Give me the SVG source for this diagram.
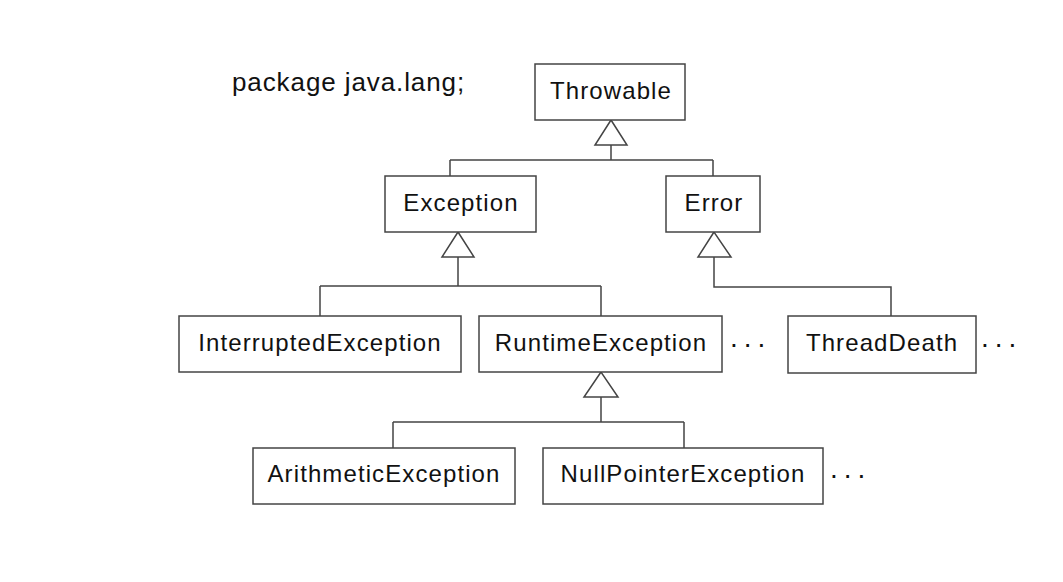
<svg xmlns="http://www.w3.org/2000/svg" width="1063" height="582" viewBox="0 0 1063 582">
<style>
.box{fill:#fff;stroke:#444;stroke-width:1.5}
.lbl{font-family:"Liberation Sans",Arial,sans-serif;font-size:24px;letter-spacing:1.1px;fill:#111;text-anchor:middle}
.pkg{font-family:"Liberation Sans",Arial,sans-serif;font-size:26px;letter-spacing:0.9px;fill:#111}
.dots{font-family:"Liberation Sans",Arial,sans-serif;font-size:28px;letter-spacing:6px;fill:#111}
.ln{fill:none;stroke:#444;stroke-width:1.5}
.tri{fill:#fff;stroke:#444;stroke-width:1.5;stroke-linejoin:miter}
</style>
<rect width="1063" height="582" fill="#fff"/>
<text class="pkg" x="232" y="91">package java.lang;</text>
<g id="connectors">
<path class="ln" d="M611,145 V160 M450,160 H713 M450,160 V176 M713,160 V176"/>
<polygon class="tri" points="611,120 595,145 627,145"/>
<path class="ln" d="M458,257 V286 M320,286 H601 M320,286 V316 M601,286 V316"/>
<polygon class="tri" points="458,232 442,257 474,257"/>
<path class="ln" d="M714,257 V287 H891 V316"/>
<polygon class="tri" points="714,232 698,257 731,257"/>
<path class="ln" d="M601,397 V422 M393,422 H684 M393,422 V448 M684,422 V448"/>
<polygon class="tri" points="601,372 584,397 618,397"/>
</g>
<g id="Throwable"><rect class="box" x="535" y="64" width="150" height="56"/><text class="lbl" x="611" y="99">Throwable</text></g>
<g id="Exception"><rect class="box" x="385" y="176" width="151" height="56"/><text class="lbl" x="461" y="211">Exception</text></g>
<g id="Error"><rect class="box" x="666" y="176" width="94" height="56"/><text class="lbl" x="714" y="211">Error</text></g>
<g id="InterruptedException"><rect class="box" x="179" y="316" width="282" height="56"/><text class="lbl" x="320" y="351">InterruptedException</text></g>
<g id="RuntimeException"><rect class="box" x="479" y="316" width="243" height="56"/><text class="lbl" x="601" y="351">RuntimeException</text></g>
<g id="ThreadDeath"><rect class="box" x="788" y="316" width="188" height="57"/><text class="lbl" x="882" y="351">ThreadDeath</text></g>
<g id="ArithmeticException"><rect class="box" x="253" y="448" width="262" height="56"/><text class="lbl" x="384" y="482">ArithmeticException</text></g>
<g id="NullPointerException"><rect class="box" x="543" y="448" width="280" height="56"/><text class="lbl" x="683" y="482">NullPointerException</text></g>
<text class="dots" x="730" y="347">...</text>
<text class="dots" x="981" y="347">...</text>
<text class="dots" x="830" y="478">...</text>
</svg>
